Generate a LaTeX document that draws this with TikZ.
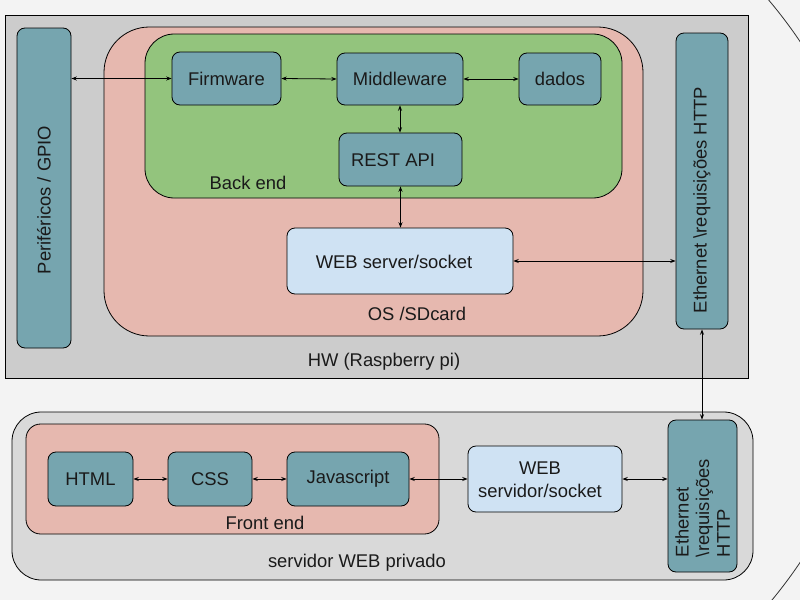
\documentclass[tikz,border=0pt]{standalone}
\usepackage{fontspec}
\setmainfont{Liberation Sans}
\usetikzlibrary{arrows.meta}
\definecolor{bgc}{HTML}{F3F3F3}
\definecolor{hwc}{HTML}{CCCCCC}
\definecolor{srvc}{HTML}{D9D9D9}
\definecolor{pinkc}{HTML}{E6B8AF}
\definecolor{greenc}{HTML}{93C47D}
\definecolor{tealc}{HTML}{76A5AF}
\definecolor{bluec}{HTML}{CFE2F3}
\definecolor{txtc}{HTML}{1A1A1A}
\tikzset{
  box/.style={draw=black, line width=0.6pt, rounded corners=6pt, fill=tealc, inner sep=0pt, text=txtc},
  lightbox/.style={box, fill=bluec},
  container/.style={draw=black, line width=0.6pt, inner sep=0pt},
  lbl/.style={text=txtc, inner sep=0pt},
  conn/.style={{Stealth[length=4pt,width=3pt]}-{Stealth[length=4pt,width=3pt]}, line width=0.6pt, draw=black},
}
\begin{document}
\begin{tikzpicture}[x=0.75pt, y=-0.75pt, font=\fontsize{13.8pt}{16pt}\selectfont]
\useasboundingbox (0,0) rectangle (800,600);
\fill[bgc] (0,0) rectangle (800,600);
\begin{scope}
  \clip (0,0) rectangle (800,600);
  \draw[line width=0.6pt, draw=black!80] (380,302) ellipse[x radius=375pt, y radius=360pt];
\end{scope}

% containers
\node[container, fill=hwc, minimum width=557.25pt, minimum height=272.25pt] (hw) at (376.5,196.5) {};
\node[container, fill=pinkc, rounded corners=34pt, minimum width=404.25pt, minimum height=231.75pt] (os) at (373.5,181.5) {};
\node[container, fill=greenc, rounded corners=22pt, minimum width=357.75pt, minimum height=123pt] (be) at (383.5,116) {};
\node[container, fill=srvc, rounded corners=22pt, minimum width=555.75pt, minimum height=126pt] (srv) at (382.5,496) {};
\node[container, fill=pinkc, rounded corners=11pt, minimum width=309.75pt, minimum height=82.5pt] (fe) at (232.5,479) {};

% container labels
\node[lbl] (belbl) at (248,183) {Back end};
\node[lbl] (oslbl) at (417,314) {OS /SDcard};
\node[lbl] (hwlbl) at (384,362) {HW (Raspberry pi)};
\node[lbl] (felbl) at (265,523) {Front end};
\node[lbl] (srvlbl) at (357,563) {servidor WEB privado};

% top boxes
\node[box, minimum width=40.5pt, minimum height=240pt] (per) at (44,188) {};
\node[lbl, rotate=90] (pertxt) at (44,200) {Periféricos / GPIO};
\node[box, minimum width=81.75pt, minimum height=39.75pt] (fw) at (226.5,78.5) {Firmware};
\node[box, minimum width=94.5pt, minimum height=39pt] (mw) at (400,79) {Middleware};
\node[box, minimum width=61.5pt, minimum height=39pt] (dd) at (560,79) {dados};
\node[box, minimum width=92.25pt, minimum height=39.75pt] (rest) at (400.5,159.5) {};
\node[lbl] (resttxt) at (393,160) {REST API};
\node[lightbox, minimum width=169.5pt, minimum height=49.5pt] (web) at (400,261) {};
\node[lbl] (webtxt) at (394,262) {WEB server/socket};
\node[box, minimum width=39pt, minimum height=222pt] (eth1) at (702,181) {};
\node[lbl, rotate=90] (eth1txt) at (702,200) {Ethernet \textbackslash requisições HTTP};

% bottom boxes
\node[box, minimum width=63.75pt, minimum height=40.5pt] (html) at (90.5,479) {HTML};
\node[box, minimum width=63pt, minimum height=40.5pt] (css) at (210,479) {CSS};
\node[box, minimum width=91.5pt, minimum height=40.5pt] (js) at (348,479) {Javascript};
\node[lightbox, minimum width=115.5pt, minimum height=49.5pt] (webs) at (545,479) {};
\node[lbl, align=center, font=\fontsize{13.8pt}{17pt}\selectfont] (webstxt) at (540,480) {WEB\\servidor/socket};
\node[box, minimum width=51.75pt, minimum height=114pt] (eth2) at (702.5,496) {};
\node[lbl, rotate=90, align=left, font=\fontsize{13.8pt}{15.5pt}\selectfont] (eth2txt) at (702.5,508) {Ethernet\\\textbackslash requisições\\HTTP};

% connectors
\draw[conn] (per.east |- fw.west) -- (fw.west);
\draw[conn] (fw.east) -- (mw.west);
\draw[conn] (mw.east) -- (dd.west);
\draw[conn] (mw.south) -- (mw.south |- rest.north);
\draw[conn] (rest.south) -- (rest.south |- web.north);
\draw[conn] (web.east) -- (web.east -| eth1.west);
\draw[conn] (eth1.south) -- (eth1.south |- eth2.north);
\draw[conn] (html.east) -- (css.west);
\draw[conn] (css.east) -- (js.west);
\draw[conn] (js.east) -- (webs.west);
\draw[conn] (webs.east) -- (webs.east -| eth2.west);
\end{tikzpicture}
\end{document}
